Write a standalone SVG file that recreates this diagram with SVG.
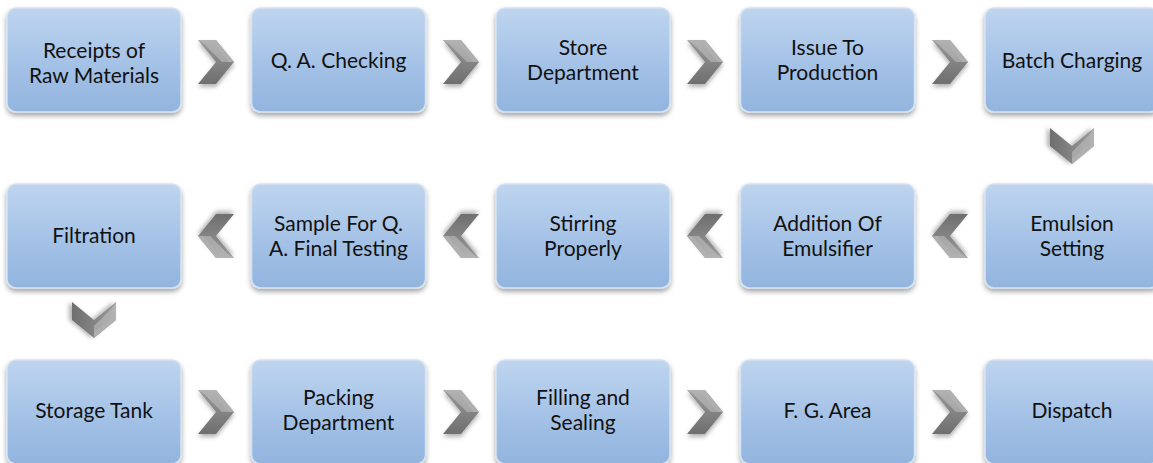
<svg xmlns="http://www.w3.org/2000/svg" width="1153" height="463" viewBox="0 0 1153 463">
<style>
.box{fill:url(#bg);stroke:#d4e3f4;stroke-width:1.5;filter:url(#sh)}
.t{font-family:Lato,"Liberation Sans",sans-serif;font-size:21px;fill:#111;text-anchor:middle}
.chev{fill:url(#cg);filter:url(#csh)}
.facet{fill:#b8b8b8;opacity:0.8}
</style>
<defs>
<linearGradient id="bg" x1="0" y1="0" x2="0" y2="1">
<stop offset="0" stop-color="#bfd5ef"/>
<stop offset="0.5" stop-color="#a6c3e7"/>
<stop offset="1" stop-color="#92b4de"/>
</linearGradient>
<linearGradient id="cg" x1="0" y1="0" x2="0" y2="1">
<stop offset="0" stop-color="#9a9a9a"/>
<stop offset="1" stop-color="#6e6e6e"/>
</linearGradient>
<filter id="sh" x="-10%" y="-10%" width="120%" height="130%">
<feDropShadow dx="0" dy="3" stdDeviation="2.5" flood-color="#000" flood-opacity="0.35"/>
</filter>
<filter id="csh" x="-30%" y="-30%" width="160%" height="170%">
<feDropShadow dx="0" dy="3" stdDeviation="2" flood-color="#000" flood-opacity="0.3"/>
</filter>
<g id="chev">
<polygon class="chev" points="-18,-22 0,-22 18,0 0,22 -18,22 0,0"/>
<polygon class="facet" points="-18,-22 0,-22 18,0 12,0 -3,-18 -12,-18"/>
<polygon fill="#c8c8c8" opacity="0.5" points="-12,-18 -3,-18 12,0 6,0"/>
</g>
</defs>
<g id="connectors">
<use href="#chev" transform="translate(216,62)"/>
<use href="#chev" transform="translate(461,62)"/>
<use href="#chev" transform="translate(705,62)"/>
<use href="#chev" transform="translate(950,62)"/>
<use href="#chev" transform="translate(1072,146) rotate(90)"/>
<use href="#chev" transform="translate(950,236) rotate(180)"/>
<use href="#chev" transform="translate(705,236) rotate(180)"/>
<use href="#chev" transform="translate(461,236) rotate(180)"/>
<use href="#chev" transform="translate(216,236) rotate(180)"/>
<use href="#chev" transform="translate(94,320) rotate(90)"/>
<use href="#chev" transform="translate(216,412)"/>
<use href="#chev" transform="translate(461,412)"/>
<use href="#chev" transform="translate(705,412)"/>
<use href="#chev" transform="translate(950,412)"/>
</g>
<g id="n1"><rect class="box" x="7" y="8" width="174" height="104" rx="9"/><text class="t" x="94" y="58">Receipts of</text><text class="t" x="94" y="83">Raw Materials</text></g>
<g id="n2"><rect class="box" x="251.5" y="8" width="174" height="104" rx="9"/><text class="t" x="338.5" y="68">Q. A. Checking</text></g>
<g id="n3"><rect class="box" x="496" y="8" width="174" height="104" rx="9"/><text class="t" x="583" y="55">Store</text><text class="t" x="583" y="80">Department</text></g>
<g id="n4"><rect class="box" x="740.5" y="8" width="174" height="104" rx="9"/><text class="t" x="827.5" y="55">Issue To</text><text class="t" x="827.5" y="80">Production</text></g>
<g id="n5"><rect class="box" x="985" y="8" width="174" height="104" rx="9"/><text class="t" x="1072" y="68">Batch Charging</text></g>
<g id="n6"><rect class="box" x="985" y="184" width="174" height="104" rx="9"/><text class="t" x="1072" y="231">Emulsion</text><text class="t" x="1072" y="256">Setting</text></g>
<g id="n7"><rect class="box" x="740.5" y="184" width="174" height="104" rx="9"/><text class="t" x="827.5" y="231">Addition Of</text><text class="t" x="827.5" y="256">Emulsifier</text></g>
<g id="n8"><rect class="box" x="496" y="184" width="174" height="104" rx="9"/><text class="t" x="583" y="231">Stirring</text><text class="t" x="583" y="256">Properly</text></g>
<g id="n9"><rect class="box" x="251.5" y="184" width="174" height="104" rx="9"/><text class="t" x="338.5" y="231">Sample For Q.</text><text class="t" x="338.5" y="256">A. Final Testing</text></g>
<g id="n10"><rect class="box" x="7" y="184" width="174" height="104" rx="9"/><text class="t" x="94" y="243">Filtration</text></g>
<g id="n11"><rect class="box" x="7" y="360" width="174" height="104" rx="9"/><text class="t" x="94" y="418">Storage Tank</text></g>
<g id="n12"><rect class="box" x="251.5" y="360" width="174" height="104" rx="9"/><text class="t" x="338.5" y="405">Packing</text><text class="t" x="338.5" y="430">Department</text></g>
<g id="n13"><rect class="box" x="496" y="360" width="174" height="104" rx="9"/><text class="t" x="583" y="405">Filling and</text><text class="t" x="583" y="430">Sealing</text></g>
<g id="n14"><rect class="box" x="740.5" y="360" width="174" height="104" rx="9"/><text class="t" x="827.5" y="418">F. G. Area</text></g>
<g id="n15"><rect class="box" x="985" y="360" width="174" height="104" rx="9"/><text class="t" x="1072" y="418">Dispatch</text></g>
</svg>
